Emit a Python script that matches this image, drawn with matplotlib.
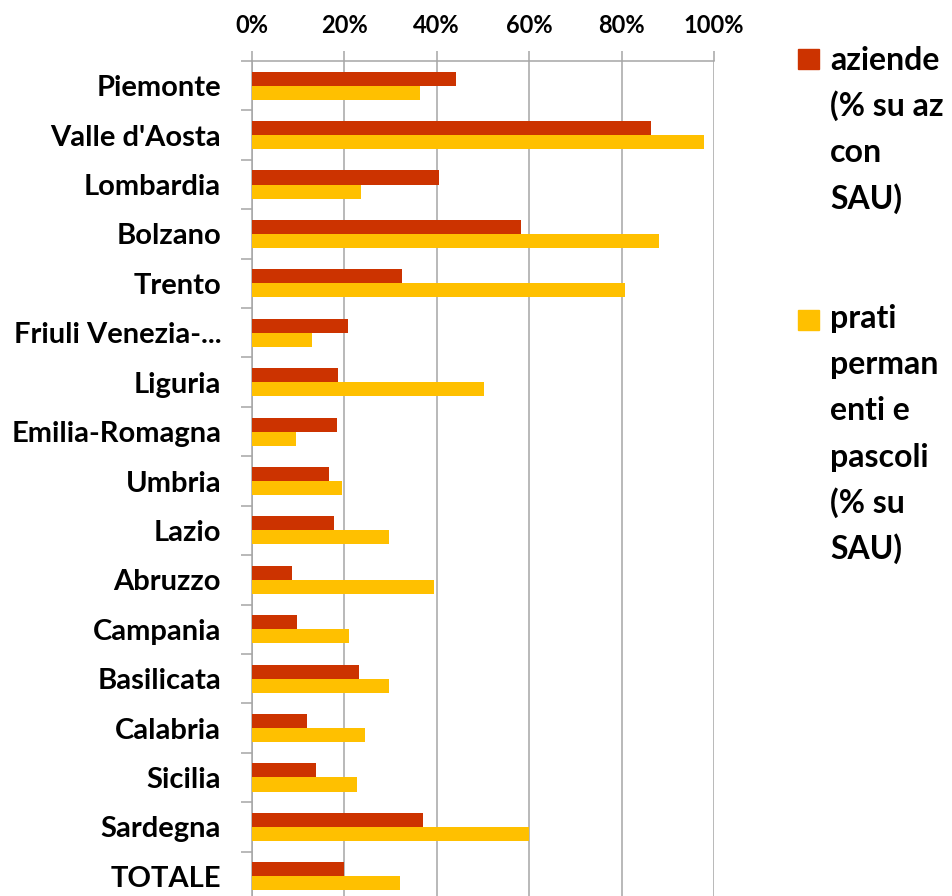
import matplotlib.pyplot as plt
import numpy as np

regions = ["Piemonte", "Valle d'Aosta", "Lombardia", "Bolzano", "Trento",
           "Friuli Venezia-...", "Liguria", "Emilia-Romagna", "Umbria", "Lazio",
           "Abruzzo", "Campania", "Basilicata", "Calabria", "Sicilia",
           "Sardegna", "TOTALE"]
aziende = [44.2, 86.3, 40.6, 58.3, 32.5, 20.9, 18.7, 18.4, 16.8, 17.9,
           8.8, 9.9, 23.1, 11.9, 13.9, 37.0, 20.0]
prati = [36.4, 97.7, 23.6, 88.0, 80.8, 13.1, 50.3, 9.5, 19.6, 29.7,
         39.4, 21.1, 29.7, 24.6, 22.7, 60.0, 32.0]
xticks = [0, 20, 40, 60, 80, 100]

red = '#CC3300'
yellow = '#FFC000'
grey = '#A6A6A6'
W, H = 953, 896

fig = plt.figure(figsize=(W / 100, H / 100), dpi=100)
ax = fig.add_axes([251.7 / W, 1 - 901 / H, 462.5 / W, 840 / H])

y = np.arange(len(regions))
bh = 0.285
ax.barh(y - bh / 2, aziende, height=bh, color=red, zorder=3)
ax.barh(y + bh / 2, prati, height=bh, color=yellow, zorder=3)

ax.set_xlim(0, 100)
ax.set_ylim(len(regions) - 0.5, -0.5)

ax.xaxis.tick_top()
ax.set_xticks(xticks)
ax.set_xticklabels([f"{t}%" for t in xticks], fontfamily='Lato',
                   fontweight='bold', fontsize=17)
ax.tick_params(axis='x', length=7.2, width=1.1, color=grey, pad=10)
ax.grid(axis='x', color=grey, linewidth=1.1, zorder=0)

ax.set_yticks(y)
ax.set_yticklabels(regions, fontfamily='Lato', fontweight='bold', fontsize=21)
ax.set_yticks(np.arange(len(regions) + 1) - 0.5, minor=True)
ax.tick_params(axis='y', which='major', length=0, pad=22)
ax.tick_params(axis='y', which='minor', length=8, width=1.1, color=grey)

for s in ['right', 'bottom']:
    ax.spines[s].set_visible(False)
for s in ['left', 'top']:
    ax.spines[s].set_color(grey)
    ax.spines[s].set_linewidth(1.1)

# legend drawn by hand
legend_items = [
    (red, 49, 70, ["aziende", "(% su az", "con", "SAU)"]),
    (yellow, 310, 328, ["prati", "perman", "enti e", "pascoli", "(% su", "SAU)"]),
]
for color, sq_top, base, lines in legend_items:
    fig.patches.append(plt.Rectangle((798 / W, 1 - (sq_top + 20) / H), 21 / W, 20 / H,
                                     transform=fig.transFigure, color=color))
    for k, line in enumerate(lines):
        fig.text(830 / W, 1 - (base + k * 46.2) / H, line, fontfamily='Lato',
                 fontweight='bold', fontsize=23, va='baseline', ha='left')

fig.savefig('out.png', dpi=100)
